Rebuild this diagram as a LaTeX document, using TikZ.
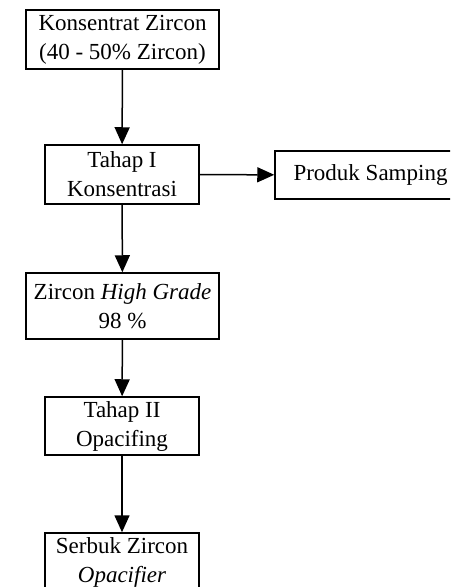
\documentclass[tikz,border=0pt]{standalone}
\usepackage{fontspec}
\setmainfont{Liberation Serif}
\usetikzlibrary{arrows.meta}
\begin{document}
\begin{tikzpicture}[x=0.5pt,y=-0.5pt,
  box/.style={draw,line width=0.75pt,inner sep=0pt,align=center,font=\fontsize{11.5}{14.5}\selectfont},
  arr/.style={line width=0.75pt,-{Triangle[length=8.5pt,width=7.5pt]}}]
\useasboundingbox (0,0) rectangle (450,587);
\clip (0,0) rectangle (450,587);
\node[box,minimum width=96.5pt,minimum height=29.5pt] (k) at (122.5,39.5) {Konsentrat Zircon\\(40 - 50\% Zircon)};
\node[box,minimum width=77pt,minimum height=29.5pt] (t1) at (122,174.5) {Tahap I\\Konsentrasi};
\node[box,minimum width=95.5pt,minimum height=24pt] (p) at (370.5,175) {Produk Samping};
\node[box,minimum width=96.5pt,minimum height=33pt] (h) at (122.5,306) {Zircon \textit{High Grade}\\98 \%};
\node[box,minimum width=77pt,minimum height=29pt] (t2) at (122,426) {Tahap II\\Opacifing};
\node[box,minimum width=77pt,minimum height=29.5pt] (s) at (122,562.5) {Serbuk Zircon\\\textit{Opacifier}};
\draw[arr] (k) -- (t1);
\draw[arr] (t1) -- (p);
\draw[arr] (t1) -- (h);
\draw[arr] (h) -- (t2);
\draw[arr] (t2) -- (s);
\end{tikzpicture}
\end{document}
